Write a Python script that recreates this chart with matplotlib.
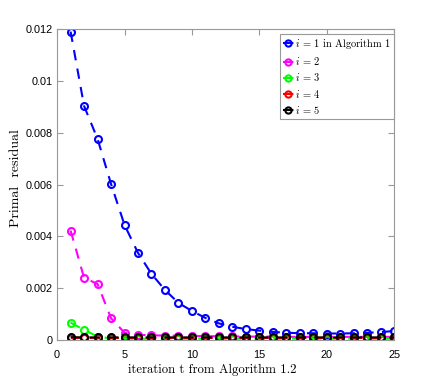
import matplotlib
matplotlib.use("Agg")
import matplotlib.pyplot as plt

iters = list(range(1, 26))
r1 = [0.0119, 0.00903, 0.00776, 0.00602, 0.00444, 0.00336, 0.00255, 0.00193, 0.00143, 0.00112,
      0.00085, 0.00064, 0.00051, 0.00042, 0.00036, 0.00031, 0.00028, 0.00026, 0.00026, 0.00025,
      0.00025, 0.00026, 0.00028, 0.00030, 0.00035]
r2 = [0.00422, 0.0024, 0.00216, 0.00084, 0.00028, 0.0002, 0.00018, 0.00017, 0.00016, 0.00015,
      0.00015, 0.00014, 0.00014, 0.00013, 0.00013, 0.00013, 0.00012, 0.00012, 0.00012, 0.00012,
      0.00012, 0.00012, 0.00012, 0.00012, 0.00012]
r3 = [0.00067, 0.00039, 0.00013, 0.00006, 0.00005, 0.00005, 0.00005, 0.00005, 0.00005, 0.00005,
      0.00005, 0.00005, 0.00005, 0.00005, 0.00005, 0.00005, 0.00005, 0.00005, 0.00005, 0.00005,
      0.00005, 0.00005, 0.00005, 0.00005, 0.00005]
r4 = [0.00009] * 25
r5 = [0.00011, 0.0001, 0.0001, 0.0001, 0.0001, 0.0001, 0.0001, 0.0001, 0.0001, 0.0001,
      0.0001, 0.0001, 0.0001, 0.0001, 0.0001, 0.0001, 0.0001, 0.0001, 0.0001, 0.0001,
      0.0001, 0.0001, 0.0001, 0.0001, 0.0001]
series = [r1, r2, r3, r4, r5]
labels = [r"$i$ = 1 in Algorithm 1", r"$i$ = 2", r"$i$ = 3", r"$i$ = 4", r"$i$ = 5"]
colors = ["#0000ff", "#ff00ff", "#00ff00", "#ff0000", "#000000"]
xticks = [0, 5, 10, 15, 20, 25]
yticks = [0, 0.002, 0.004, 0.006, 0.008, 0.01, 0.012]
yticklabels = ["0", "0.002", "0.004", "0.006", "0.008", "0.01", "0.012"]

plt.rcParams['mathtext.fontset'] = 'cm'
fig = plt.figure(figsize=(4.36, 3.82), dpi=100)
ax = fig.add_axes([0.131, 0.110, 0.773, 0.814])
for y, lab, c in zip(series, labels, colors):
    ax.plot(iters, y, linestyle=(0, (5, 4)), color=c, linewidth=1.5, marker='o',
            markersize=5, markerfacecolor='none', markeredgewidth=1.5, label=lab)

ax.set_xlim(0, 25)
ax.set_ylim(0, 0.012)
ax.set_xticks(xticks)
ax.set_yticks(yticks)
ax.set_yticklabels(yticklabels)
tickfont = ['Liberation Sans Narrow', 'Liberation Sans', 'DejaVu Sans']
for lab in ax.get_xticklabels() + ax.get_yticklabels():
    lab.set_family(tickfont)
    lab.set_fontsize(7.8)
ax.tick_params(direction='in', top=True, right=True, length=4, color='#999999')
ax.tick_params(axis='y', pad=3)
ax.tick_params(axis='x', pad=7)
for s in ax.spines.values():
    s.set_color('#999999')
    s.set_linewidth(0.8)

ax.set_xlabel("iteration t from Algorithm 1.2", family='cmr10', fontsize=9.2)
ax.xaxis.set_label_coords(0.46, -0.078)
ax.set_ylabel("Primal  residual", family='cmr10', fontsize=10)
ax.yaxis.set_label_coords(-0.103, 0.52)

leg = ax.legend(loc='upper right', bbox_to_anchor=(1.0, 0.984),
                prop={'family': 'cmr10', 'size': 7.5}, handlelength=1.0, handletextpad=0.15,
                borderpad=0.3, borderaxespad=0.0, labelspacing=0.4, fancybox=False,
                framealpha=1, edgecolor='#999999')
leg.get_frame().set_linewidth(0.8)
for h in leg.legend_handles:
    h.set_markersize(4.5)

fig.savefig("out.png", dpi=100)
